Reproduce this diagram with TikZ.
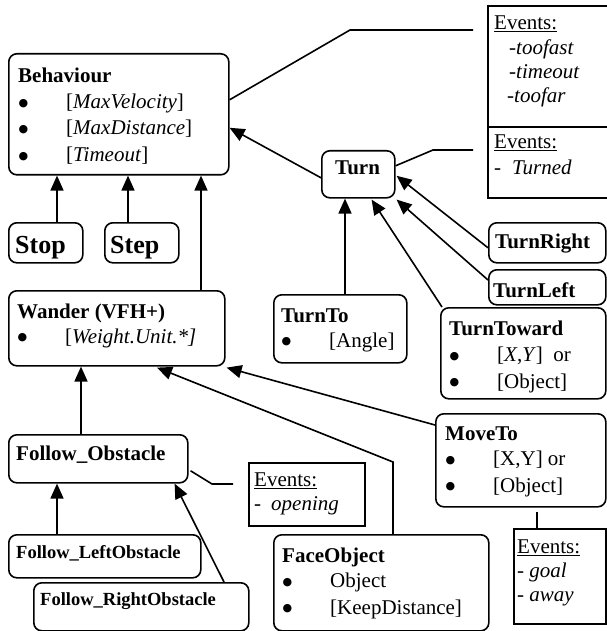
\documentclass[tikz,border=0pt]{standalone}
\usepackage{fontspec}
\setmainfont{Liberation Serif}
\newfontfamily\symfont{DejaVu Sans}
\usetikzlibrary{arrows.meta}
\newcommand\mybul{\makebox[48pt][l]{\hspace{0.5pt}\raisebox{2.2pt}{\symfont\fontsize{11}{11}\selectfont ●}}}
\begin{document}
\begin{tikzpicture}[x=1pt,y=-1pt,
  rbox/.style={draw, line width=1.6pt, rounded corners=8pt, inner sep=0pt, anchor=north west},
  sbox/.style={draw, line width=1.6pt, inner sep=0pt, anchor=north west},
  txt/.style={anchor=base west, inner sep=0pt, font=\fontsize{21}{26.5}\selectfont},
  evtxt/.style={anchor=base west, inner sep=0pt, font=\fontsize{21}{24}\selectfont},
  smalltxt/.style={anchor=base west, inner sep=0pt, font=\fontsize{18.5}{22}\selectfont\bfseries},
  bigtxt/.style={anchor=base west, inner sep=0pt, font=\fontsize{26}{30}\selectfont\bfseries},
  arr/.style={line width=1.6pt, -{Triangle[length=15pt,width=13pt]}},
  ln/.style={line width=1.6pt},
]
\useasboundingbox (0,0) rectangle (606,631);

% ---------- boxes ----------
\node[rbox, minimum width=220pt, minimum height=121pt] (beh) at (8,53) {};
\node[rbox, minimum width=74pt, minimum height=40pt] (stop) at (8,222) {};
\node[rbox, minimum width=74pt, minimum height=40pt] (step) at (104,222) {};
\node[rbox, minimum width=216pt, minimum height=75pt] (wan) at (8,290) {};
\node[rbox, minimum width=179pt, minimum height=48pt] (fo) at (8,434) {};
\node[rbox, minimum width=192pt, minimum height=43pt] (flo) at (8,534) {};
\node[rbox, minimum width=215pt, minimum height=48pt] (fro) at (33,582) {};
\node[rbox, minimum width=73pt, minimum height=47pt] (turn) at (321,150) {};
\node[rbox, minimum width=133pt, minimum height=68pt] (tto) at (273,294) {};
\node[rbox, minimum width=165pt, minimum height=91pt] (tow) at (440,307) {};
\node[rbox, minimum width=170pt, minimum height=93pt] (mov) at (435,413) {};
\node[rbox, minimum width=215pt, minimum height=96pt] (face) at (273,534) {};
\node[rbox, minimum width=117pt, minimum height=40pt] (tr) at (488,222) {};
\node[rbox, minimum width=117pt, minimum height=35pt] (tl) at (488,269) {};

\node[sbox, minimum width=130pt, minimum height=121pt] (ev1) at (487,5) {};
\node[sbox, minimum width=130pt, minimum height=71pt] (ev2) at (487,126) {};
\node[sbox, minimum width=116pt, minimum height=63pt] (ev3) at (248,462) {};
\node[sbox, minimum width=92pt, minimum height=95pt] (ev4) at (513,528) {};

% ---------- texts ----------
\node[txt] (behT) at (18,83) {\begin{tabular}[t]{@{}l@{}}\textbf{Behaviour}\\[-1pt]
  \mybul[\textit{MaxVelocity}]\\ \mybul[\textit{MaxDistance}]\\ \mybul[\textit{Timeout}]\end{tabular}};
\node[bigtxt] (stopT) at (15,253) {Stop};
\node[bigtxt] (stepT) at (110,253) {Step};
\node[txt] (wanT) at (17,318) {\begin{tabular}[t]{@{}l@{}}\textbf{Wander (VFH+)}\\[-1.5pt]
  \mybul[\textit{Weight.Unit.*]}\end{tabular}};
\node[txt] (foT) at (16,460) {\textbf{Follow\_Obstacle}};
\node[smalltxt] (floT) at (16,558) {Follow\_LeftObstacle};
\node[smalltxt] (froT) at (40,605) {Follow\_RightObstacle};
\node[txt] (turnT) at (335,175) {\textbf{Turn}};
\node[txt] (ttoT) at (281,322) {\begin{tabular}[t]{@{}l@{}}\textbf{TurnTo}\\[-1.5pt]
  \mybul[Angle]\end{tabular}};
\node[txt] (towT) at (449,335) {\begin{tabular}[t]{@{}l@{}}\textbf{TurnToward}\\
  \mybul[\textit{X},\textit{Y}]\ \ or\\ \mybul[Object]\end{tabular}};
\node[txt] (movT) at (445,440) {\begin{tabular}[t]{@{}l@{}}\textbf{MoveTo}\\[-1pt]
  \mybul[X,Y] or\\ \mybul[Object]\end{tabular}};
\node[txt] (faceT) at (282,562) {\begin{tabular}[t]{@{}l@{}}\textbf{FaceObject}\\[-1pt]
  \mybul Object\\ \mybul[KeepDistance]\end{tabular}};
\node[txt] (trT) at (495,248) {\textbf{TurnRight}};
\node[txt] (tlT) at (493,297) {\textbf{TurnLeft}};

\node[evtxt] (ev1T) at (494,30) {\begin{tabular}[t]{@{}l@{}}\underline{Events:}\\[1pt]
  \hspace{15pt}-\textit{toofast}\\ \hspace{15pt}-\textit{timeout}\\ \hspace{13pt}-\textit{toofar}\end{tabular}};
\node[evtxt] (ev2T) at (494,149) {\begin{tabular}[t]{@{}l@{}}\underline{Events:}\\[2pt]
  \makebox[18pt][l]{-}\textit{Turned}\end{tabular}};
\node[evtxt] (ev3T) at (254,486) {\begin{tabular}[t]{@{}l@{}}\underline{Events:}\\
  \makebox[17pt][l]{-}\textit{opening}\end{tabular}};
\node[evtxt] (ev4T) at (517,553) {\begin{tabular}[t]{@{}l@{}}\underline{Events:}\\
  - \textit{goal}\\ - \textit{away}\end{tabular}};

% ---------- arrows ----------
\coordinate (c1) at ([xshift=49pt]stop.north west);
\draw[arr] (c1) -- (c1 |- beh.south);
\coordinate (c2) at ([xshift=24pt]step.north west);
\draw[arr] (c2) -- (c2 |- beh.south);
\coordinate (c3) at ([xshift=193pt]wan.north west);
\draw[arr] (c3) -- (c3 |- beh.south);
\coordinate (c4) at ([xshift=73pt]fo.north west);
\draw[arr] (c4) -- (c4 |- wan.south);
\coordinate (c5) at ([xshift=49pt]flo.north west);
\draw[arr] (c5) -- (c5 |- fo.south);
\draw[arr] ([xshift=191pt]fro.north west) -- ([xshift=-14pt]fo.south east);
\coordinate (c6) at ([xshift=120pt]face.north west);
\draw[arr] (c6) -- (c6 |- ev3.north) -- ([xshift=149pt,yshift=-1pt]wan.south west);
\draw[arr] ([yshift=-12pt]mov.north west) -- ([xshift=1pt,yshift=-1pt]wan.south east);
\coordinate (c7) at ([xshift=72pt]tto.north west);
\draw[arr] (c7) -- (c7 |- turn.south);
\draw[arr] ([xshift=2pt]tow.north west) -- ([xshift=-24pt,yshift=-1pt]turn.south east);
\draw[arr] ([yshift=-11pt]tl.north west) -- ([xshift=1pt,yshift=-1pt]turn.south east);
\draw[arr] ([yshift=-5pt]tr.west) -- ([xshift=1pt,yshift=-1.5pt]turn.east);
\draw[arr] ([yshift=-3.5pt]turn.west) -- ([yshift=-13.5pt]beh.east);

% ---------- event connectors ----------
\coordinate (b1) at (350,30);
\coordinate (e1) at (473,30);
\draw[ln] ([yshift=14.5pt]beh.east) -- (b1) -- (e1);
\coordinate (b2) at (433,150);
\coordinate (e2) at (473,150);
\draw[ln] ([yshift=8.5pt]turn.east) -- (b2) -- (e2);
\coordinate (b3) at (212,484);
\coordinate (e3) at (233,484);
\draw[ln] ([xshift=2pt,yshift=-12pt]fo.east) -- (b3) -- (e3);
\coordinate (m1) at ([xshift=102pt,yshift=-4pt]mov.south west);
\draw[ln] (m1) -- (m1 |- ev4.north);
\end{tikzpicture}
\end{document}
